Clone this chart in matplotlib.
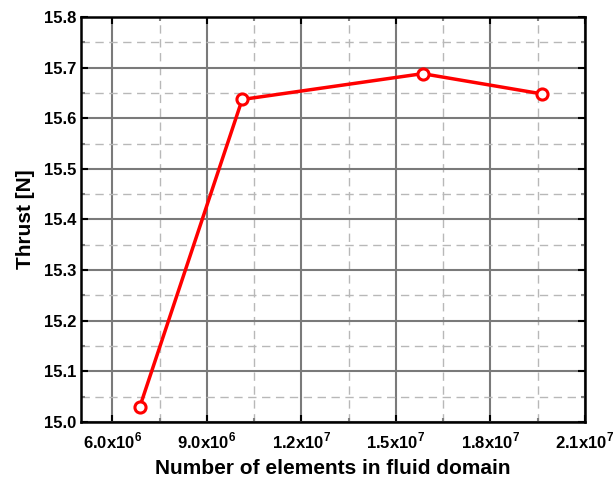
import matplotlib
matplotlib.use('Agg')
import matplotlib.pyplot as plt
from matplotlib.ticker import MultipleLocator

plt.rcParams['font.family'] = 'Liberation Sans'
plt.rcParams['font.weight'] = 'bold'
plt.rcParams['mathtext.fontset'] = 'custom'
plt.rcParams['mathtext.rm'] = 'Liberation Sans:bold'
plt.rcParams['mathtext.bf'] = 'Liberation Sans:bold'

# mesh study data
elements = [6.87e6, 1.012e7, 1.585e7, 1.964e7]
thrust = [15.03, 15.637, 15.688, 15.648]

x_ticks = [6.0e6, 9.0e6, 1.2e7, 1.5e7, 1.8e7, 2.1e7]
x_tick_labels = ['6.0x10$^{6}$', '9.0x10$^{6}$', '1.2x10$^{7}$',
                 '1.5x10$^{7}$', '1.8x10$^{7}$', '2.1x10$^{7}$']
y_ticks = [15.0, 15.1, 15.2, 15.3, 15.4, 15.5, 15.6, 15.7, 15.8]

fig = plt.figure(figsize=(6.13, 4.84), dpi=100)
ax = fig.add_axes([0.132, 0.128, 0.822, 0.837])

ax.plot(elements, thrust, color='red', lw=2.5, marker='o', ms=8,
        mfc='white', mec='red', mew=2.2, zorder=5)

ax.set_xlim(5e6, 2.1e7)
ax.set_ylim(15.0, 15.8)
ax.set_xticks(x_ticks)
ax.set_xticklabels(x_tick_labels)
ax.set_yticks(y_ticks)
ax.set_yticklabels(['%.1f' % v for v in y_ticks])
ax.xaxis.set_minor_locator(MultipleLocator(1.5e6))
ax.yaxis.set_minor_locator(MultipleLocator(0.05))

ax.grid(which='major', color='#7a7a7a', lw=1.5, ls='-')
ax.grid(which='minor', color='#b8b8b8', lw=1.0, ls=(0, (6, 4)))
ax.set_axisbelow(True)

ax.tick_params(which='both', direction='in', top=True, right=True,
               labelsize=12, width=1.5)
ax.tick_params(which='major', length=5)
ax.tick_params(which='minor', length=3, color='#808080')
ax.tick_params(axis='x', pad=6)
for s in ax.spines.values():
    s.set_linewidth(1.8)

ax.set_xlabel('Number of elements in fluid domain', fontsize=15,
              fontweight='bold', labelpad=6)
ax.set_ylabel('Thrust [N]', fontsize=15, fontweight='bold', labelpad=6)

fig.savefig('out.png', dpi=100)
